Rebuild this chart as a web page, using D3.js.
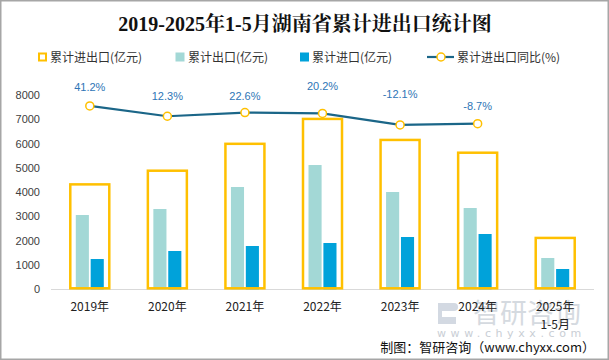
<!DOCTYPE html>
<html><head><meta charset="utf-8">
<script src="https://cdn.jsdelivr.net/npm/d3@7/dist/d3.min.js"></script>
<style>body{margin:0;background:#fff}svg{display:block}</style>
</head><body>
<svg id="c" width="609" height="360"></svg>
<script>
const categories = ["2019年","2020年","2021年","2022年","2023年","2024年","2025年\n1-5月"];
const totalValues = [4320, 4883, 5990, 7015, 6150, 5624, 2115];
const exportValues = [3059, 3306, 4212, 5117, 4006, 3347, 1289];
const importValues = [1247, 1577, 1783, 1906, 2153, 2277, 836];
const growthValues = [41.2, 12.3, 22.6, 20.2, -12.1, -8.7];
const yTicks = [0,1000,2000,3000,4000,5000,6000,7000,8000];
const seriesNames = ["累计进出口(亿元)","累计出口(亿元)","累计进口(亿元)","累计进出口同比(%)"];

const labelLift = [19, 20, 17, 27, 31, 18];

const svg = d3.select("#c");
const cjk = "'Noto Sans CJK SC','Noto Sans',sans-serif";
const C = {total:"#FFC000", exp:"#A3D8D6", imp:"#00A2DA", line:"#1B6688", lab:"#2E75B6", txt:"#404040"};

// frame
svg.append("rect").attr("x",0.75).attr("y",0.75).attr("width",607.5).attr("height",358.5)
  .attr("fill","none").attr("stroke","#A6A6A6").attr("stroke-width",1.5);

// title
svg.append("text").attr("x",305).attr("y",31).attr("text-anchor","middle")
  .attr("font-family","'Liberation Serif','Noto Serif CJK SC','Noto Sans CJK SC',serif")
  .attr("font-weight","bold").attr("font-size",20).attr("fill","#111")
  .text("2019-2025年1-5月湖南省累计进出口统计图");

const x = d3.scaleBand().domain(categories).range([51,594]);
const y = d3.scaleLinear().domain([0,8000]).range([289.3,95]);
const y2 = d3.scaleLinear().domain([-474,72]).range([289.3,95]);
const inner = d3.scaleBand().domain(["exp","imp"]).range([-14,14]).paddingInner(0.12);
const cx = d => x(d) + x.bandwidth()/2;

// y axis
const yAxis = svg.append("g").attr("transform","translate(43,0)")
  .call(d3.axisLeft(y).tickValues(yTicks).tickSize(0).tickPadding(3).tickFormat(d3.format("d")));
yAxis.select(".domain").remove();
yAxis.selectAll("text").attr("font-family","'Liberation Sans',Arial,sans-serif").attr("font-size",11).attr("fill",C.txt);

// x axis line
svg.append("line").attr("x1",51).attr("x2",594).attr("y1",289.5).attr("y2",289.5)
  .attr("stroke","#D9D9D9").attr("stroke-width",1);

// watermark
const wm = svg.append("g");
wm.append("path").attr("d","M438,303 h16 a4,4 0 0 1 0,8 h-12 v6 h14 v7 h-18 z").attr("fill","#D3D9E2");
wm.append("text").attr("x",473).attr("y",323).attr("font-family",cjk).attr("font-size",27)
  .attr("fill","#D5DAE0").text("智研咨询");
wm.append("text").attr("x",437).attr("y",337).attr("font-family","'DejaVu Sans',sans-serif").attr("font-size",11)
  .attr("fill","#C9CED5").attr("letter-spacing",4.6).text("www.chyxx.com");

// bars
const g = svg.append("g");
categories.forEach((c,i)=>{
  g.append("rect").attr("x",cx(c)+inner("exp")).attr("width",inner.bandwidth())
    .attr("y",y(exportValues[i])).attr("height",y(0)-y(exportValues[i])).attr("fill",C.exp);
  g.append("rect").attr("x",cx(c)+inner("imp")).attr("width",inner.bandwidth())
    .attr("y",y(importValues[i])).attr("height",y(0)-y(importValues[i])).attr("fill",C.imp);
  g.append("rect").attr("x",cx(c)-19.5).attr("width",39)
    .attr("y",y(totalValues[i])).attr("height",y(0)-y(totalValues[i])-1)
    .attr("fill","none").attr("stroke",C.total).attr("stroke-width",2.5);
});

// x labels
categories.forEach(c=>{
  const t = svg.append("text").attr("text-anchor","middle").attr("font-family",cjk)
    .attr("font-size",12).attr("fill","#222");
  c.split("\n").forEach((s,k)=>{
    t.append("tspan").attr("x",cx(c)).attr("y",311+k*18).text(s);
  });
});

// line
const lineCats = categories.slice(0, growthValues.length);
const line = d3.line().x((d,i)=>cx(lineCats[i])).y(d=>y2(d));
svg.append("path").datum(growthValues).attr("d",line).attr("fill","none")
  .attr("stroke",C.line).attr("stroke-width",2.2);
growthValues.forEach((v,i)=>{
  svg.append("circle").attr("cx",cx(lineCats[i])).attr("cy",y2(v)).attr("r",4)
    .attr("fill","#fff").attr("stroke",C.total).attr("stroke-width",1.5);
  svg.append("text").attr("x",cx(lineCats[i])).attr("y",y2(v)-labelLift[i]+4)
    .attr("text-anchor","middle").attr("font-family","'Liberation Sans',Arial,sans-serif")
    .attr("font-size",11).attr("fill",C.lab).text(v.toFixed(1)+"%");
});

// legend
const lg = svg.append("g").attr("font-family",cjk).attr("font-size",12).attr("fill","#333");
lg.append("rect").attr("x",39).attr("y",53.5).attr("width",7).attr("height",7)
  .attr("fill","#fff").attr("stroke",C.total).attr("stroke-width",2);
lg.append("text").attr("x",50).attr("y",61.5).text(seriesNames[0]);
lg.append("rect").attr("x",175.5).attr("y",52.5).attr("width",9).attr("height",9).attr("fill",C.exp);
lg.append("text").attr("x",188).attr("y",61.5).text(seriesNames[1]);
lg.append("rect").attr("x",300).attr("y",52.5).attr("width",9).attr("height",9).attr("fill",C.imp);
lg.append("text").attr("x",312).attr("y",61.5).text(seriesNames[2]);
lg.append("line").attr("x1",427).attr("x2",454).attr("y1",57).attr("y2",57).attr("stroke",C.line).attr("stroke-width",2.2);
lg.append("circle").attr("cx",441).attr("cy",57).attr("r",4).attr("fill","#fff").attr("stroke",C.total).attr("stroke-width",1.5);
lg.append("text").attr("x",457).attr("y",61.5).text(seriesNames[3]);

// credit
svg.append("text").attr("x",595).attr("y",352).attr("text-anchor","end")
  .attr("font-family",cjk).attr("font-size",13).attr("fill","#111")
  .text("制图：智研咨询（www.chyxx.com）");
</script>
</body></html>
